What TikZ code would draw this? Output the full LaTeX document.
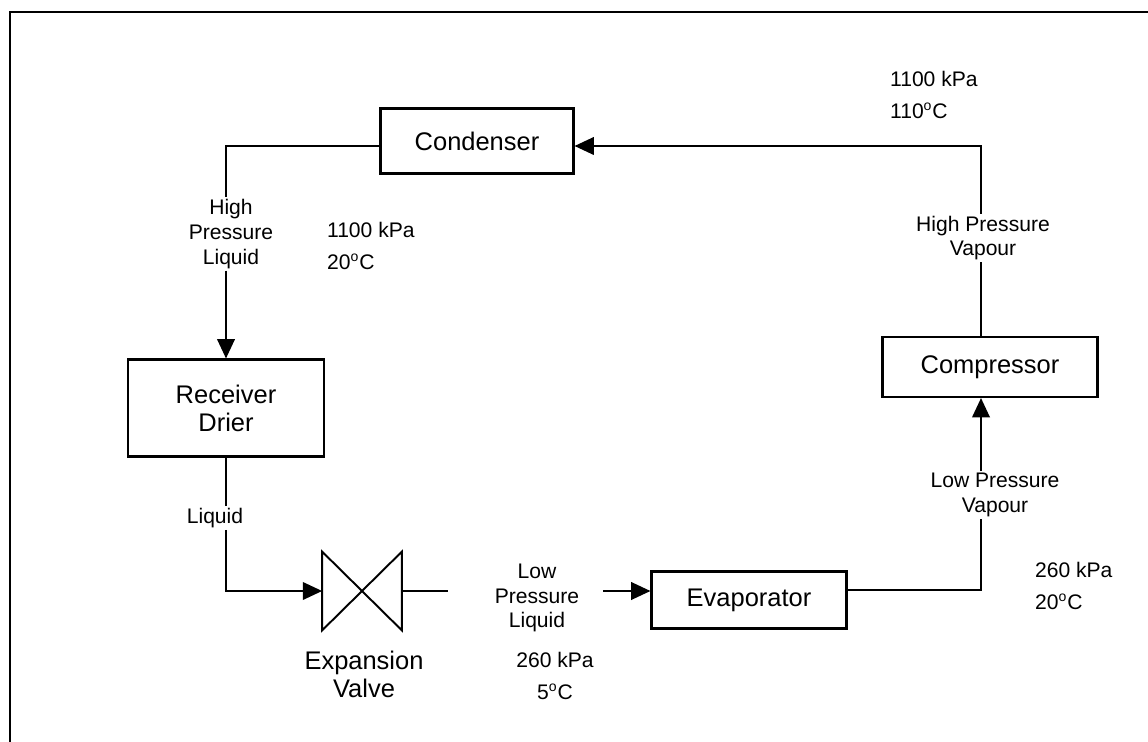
\documentclass[tikz,border=0pt]{standalone}
\usepackage{fontspec}
\setmainfont{Liberation Sans}
\usetikzlibrary{positioning, arrows.meta}

\newcommand{\degc}{\textsuperscript{o}C}

\begin{document}
\begin{tikzpicture}[x=0.02cm, y=-0.02cm,
  unit/.style={draw, line width=1.2pt, inner sep=0pt, align=center, font=\fontsize{14.5}{16}\selectfont},
  tag/.style={inner sep=1pt, align=center, font=\fontsize{12}{14}\selectfont},
  state/.style={inner sep=1pt, align=left, anchor=west, font=\fontsize{12}{18}\selectfont},
  pipe/.style={line width=1.1pt},
  flow/.style={line width=1.1pt, -{Triangle[length=11pt, width=10pt]}}]
 \useasboundingbox (0,0) rectangle (1148,742);
 \draw[line width=1.5pt] (10,742) -- (10,12) -- (1148,12);

 % units
 \node[unit, minimum width=3.86cm, minimum height=1.3cm] (cond) at (477,141) {Condenser};
 \node[unit, minimum width=3.92cm, minimum height=1.94cm] (recv) at (226,408) {Receiver\\Drier};
 \node[unit, minimum width=3.9cm, minimum height=1.14cm] (evap) at (749,600) {Evaporator};
 \node[unit, minimum width=4.3cm, minimum height=1.2cm] (cmp) at (990,367) {Compressor};
 \node[minimum width=1.58cm, minimum height=1.56cm, inner sep=0pt] (valve) at (362,591) {};
 \draw[line width=1.1pt] (valve.north west) -- (valve.south east) -- (valve.north east)
   -- (valve.south west) -- cycle;
 \node[tag, font=\fontsize{14.5}{16}\selectfont] (valvetxt) at (364,674) {Expansion\\Valve};

 % line labels
 \node[tag] (hpl) at (231,234) {High\\Pressure\\Liquid};
 \node[tag] (liq) at (215,518) {Liquid};
 \node[tag] (lpl) at (537,598) {Low\\Pressure\\Liquid};
 \node[tag] (lpv) at (995,495) {Low Pressure\\Vapour};
 \node[tag] (hpv) at (983,238) {High Pressure\\Vapour};

 % states
 \node[state] (s1) at (325,246) {1100 kPa\\20\degc};
 \node[state] (s2) at (888,95) {1100 kPa\\110\degc};
 \node[state] (s3) at (1033,586) {260 kPa\\20\degc};
 \node[tag, font=\fontsize{12}{18}\selectfont] (s4) at (555,676) {260 kPa\\5\degc};

 % pipework
 \coordinate (tr) at (981,146);
 \coordinate (tl) at (226,146);
 \coordinate (vo) at (448,591);
 \coordinate (ei) at (603,591);
 \coordinate (br) at (981,590);
 \draw[pipe] (tr |- cmp.north) -- (tr |- hpv.south);
 \draw[flow] (tr |- hpv.north) -- (tr) -- (tr -| cond.east);
 \draw[pipe] (tl -| cond.west) -- (tl) -- (tl |- hpl.north);
 \draw[flow] (tl |- hpl.south) -- (recv.north);
 \draw[pipe] (recv.south) -- (recv.south |- liq.north);
 \draw[flow] (recv.south |- liq.south) |- (valve.west);
 \draw[pipe] (valve.east) -- (vo);
 \draw[flow] (ei) -- (ei -| evap.west);
 \draw[pipe] (br -| evap.east) -- (br) -- (br |- lpv.south);
 \draw[flow] (br |- lpv.north) -- (tr |- cmp.south);
\end{tikzpicture}
\end{document}
